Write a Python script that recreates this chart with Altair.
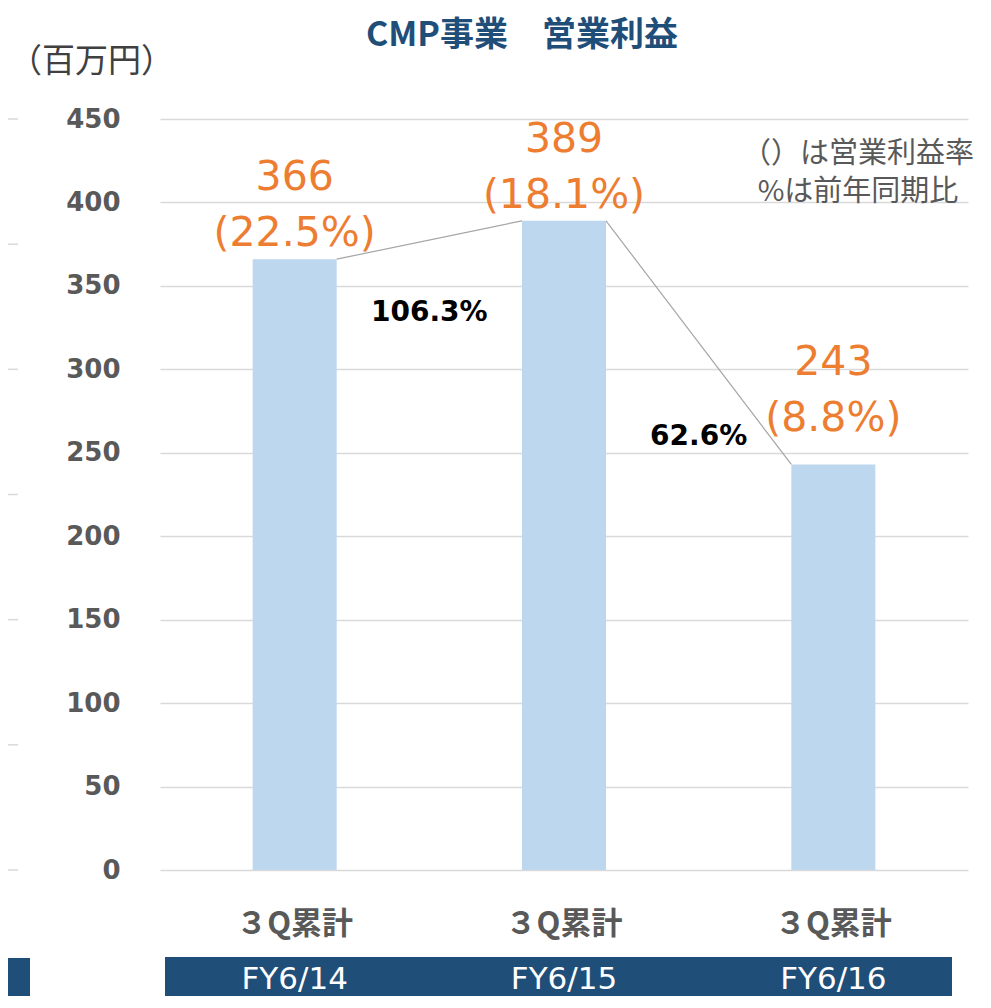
import altair as alt
import pandas as pd

# ---- data ----
categories = ["FY6/14", "FY6/15", "FY6/16"]
period = ["３Q累計", "３Q累計", "３Q累計"]
profit = [366, 389, 243]
margin = ["22.5%", "18.1%", "8.8%"]
yoy = ["106.3%", "62.6%"]
y_ticks = [0, 50, 100, 150, 200, 250, 300, 350, 400, 450]
side_ticks = [0, 75, 150, 225, 300, 375, 450]
unit_label = ["（百万円）"]
note_lines = ["（）は営業利益率", "%は前年同期比"]
title_text = ["CMP事業　営業利益"]

df = pd.DataFrame({
    "fy": categories,
    "period": period,
    "profit": profit,
    "idx": list(range(len(categories))),
    "label": [f"{p}\n({m})" for p, m in zip(profit, margin)],
})
conn = pd.DataFrame({
    "src": categories[:-1],
    "dst": categories[1:],
    "v0": profit[:-1],
    "v1": profit[1:],
    "yoy": yoy,
    "idx": list(range(len(yoy))),
})

CJK = "Noto Sans CJK JP"
LAT = "DejaVu Sans"
GREY = "#595959"
ORANGE = "#ED7D31"
NAVY = "#1F4E79"

xscale = alt.Scale(domain=categories, paddingInner=0.688, paddingOuter=0.344)
yscale = alt.Scale(domain=[0, 450], nice=False)

bars = alt.Chart(df).mark_bar(color="#BDD7EE").encode(
    x=alt.X("fy:N", scale=xscale, axis=None),
    y=alt.Y("profit:Q", scale=yscale,
            axis=alt.Axis(values=y_ticks, title=None, domain=False, ticks=False,
                          grid=True, gridColor="#D9D9D9", gridWidth=1.5,
                          labelFont=LAT, labelFontWeight="bold", labelFontSize=26,
                          labelColor=GREY, labelPadding=40)),
)

side = alt.Chart(pd.DataFrame({"v": side_ticks})).mark_rule(
    color="#D9D9D9", strokeWidth=1.5
).encode(y=alt.Y("v:Q", scale=yscale), x=alt.value(-170), x2=alt.value(-142))

connectors = alt.Chart(conn).mark_rule(color="#A5A5A5", strokeWidth=1.2).encode(
    x=alt.X("src:N", scale=xscale, bandPosition=1, axis=None),
    x2=alt.X2("dst", bandPosition=0),
    y=alt.Y("v0:Q", scale=yscale),
    y2=alt.Y2("v1"),
)

lab_common = dict(lineBreak="\n", baseline="bottom", fontSize=41, font=LAT,
                  color=ORANGE, lineHeight=56)
lab_a = alt.Chart(df).transform_filter("datum.idx < 2").mark_text(dy=-60, **lab_common).encode(
    x=alt.X("fy:N", scale=xscale, axis=None),
    y=alt.Y("profit:Q", scale=yscale), text="label:N")
lab_b = alt.Chart(df).transform_filter("datum.idx == 2").mark_text(dy=-80, **lab_common).encode(
    x=alt.X("fy:N", scale=xscale, axis=None),
    y=alt.Y("profit:Q", scale=yscale), text="label:N")

yoy_common = dict(font=LAT, fontWeight="bold", fontSize=28, color="#000000",
                  baseline="middle", dx=-92.7)
yoy_a = alt.Chart(conn).transform_filter("datum.idx == 0").mark_text(dy=92, **yoy_common).encode(
    x=alt.X("dst:N", scale=xscale, bandPosition=0, axis=None),
    y=alt.Y("v1:Q", scale=yscale), text="yoy:N")
yoy_b = alt.Chart(conn).transform_filter("datum.idx == 1").mark_text(dy=-27, **yoy_common).encode(
    x=alt.X("dst:N", scale=xscale, bandPosition=0, axis=None),
    y=alt.Y("v1:Q", scale=yscale), text="yoy:N")

period_text = alt.Chart(df).mark_text(font=CJK, fontWeight="bold", fontSize=31,
                                      color=GREY, baseline="middle").encode(
    x=alt.X("fy:N", scale=xscale, axis=None), y=alt.value(806), text="period:N")

one = pd.DataFrame({"a": [0]})
band_main = alt.Chart(one).mark_rect(color=NAVY).encode(
    x=alt.value(5), x2=alt.value(792), y=alt.value(838), y2=alt.value(900))
band_left = alt.Chart(one).mark_rect(color=NAVY).encode(
    x=alt.value(-175), x2=alt.value(-130), y=alt.value(839), y2=alt.value(900))

fy_text = alt.Chart(df).mark_text(font=LAT, fontSize=31, color="#FFFFFF",
                                  baseline="middle").encode(
    x=alt.X("fy:N", scale=xscale, axis=None), y=alt.value(861), text="fy:N")

unit = alt.Chart(pd.DataFrame({"t": unit_label})).mark_text(
    font=CJK, fontSize=33, color="#404040", align="left", baseline="middle"
).encode(x=alt.value(-151), y=alt.value(-57), text="t:N")

note = alt.Chart(pd.DataFrame({"t": ["\n".join(note_lines)]})).mark_text(
    font=CJK, fontSize=29, color=GREY, align="center", baseline="alphabetic",
    lineBreak="\n", lineHeight=38
).encode(x=alt.value(698), y=alt.value(44), text="t:N")

title = alt.Chart(pd.DataFrame({"t": title_text})).mark_text(
    font=CJK, fontSize=34, fontWeight="bold", color=NAVY, align="center",
    baseline="middle"
).encode(x=alt.value(362), y=alt.value(-83), text="t:N")

chart = alt.layer(
    side, bars, connectors, lab_a, lab_b, yoy_a, yoy_b,
    period_text, band_main, band_left, fy_text, unit, note, title
).properties(
    width=808, height=751,
    padding={"left": 152, "top": 111, "right": 7, "bottom": 126},
    autosize="none",
).configure_view(stroke=None)

chart.save("out.html", embed_options={"renderer": "svg", "actions": False})
